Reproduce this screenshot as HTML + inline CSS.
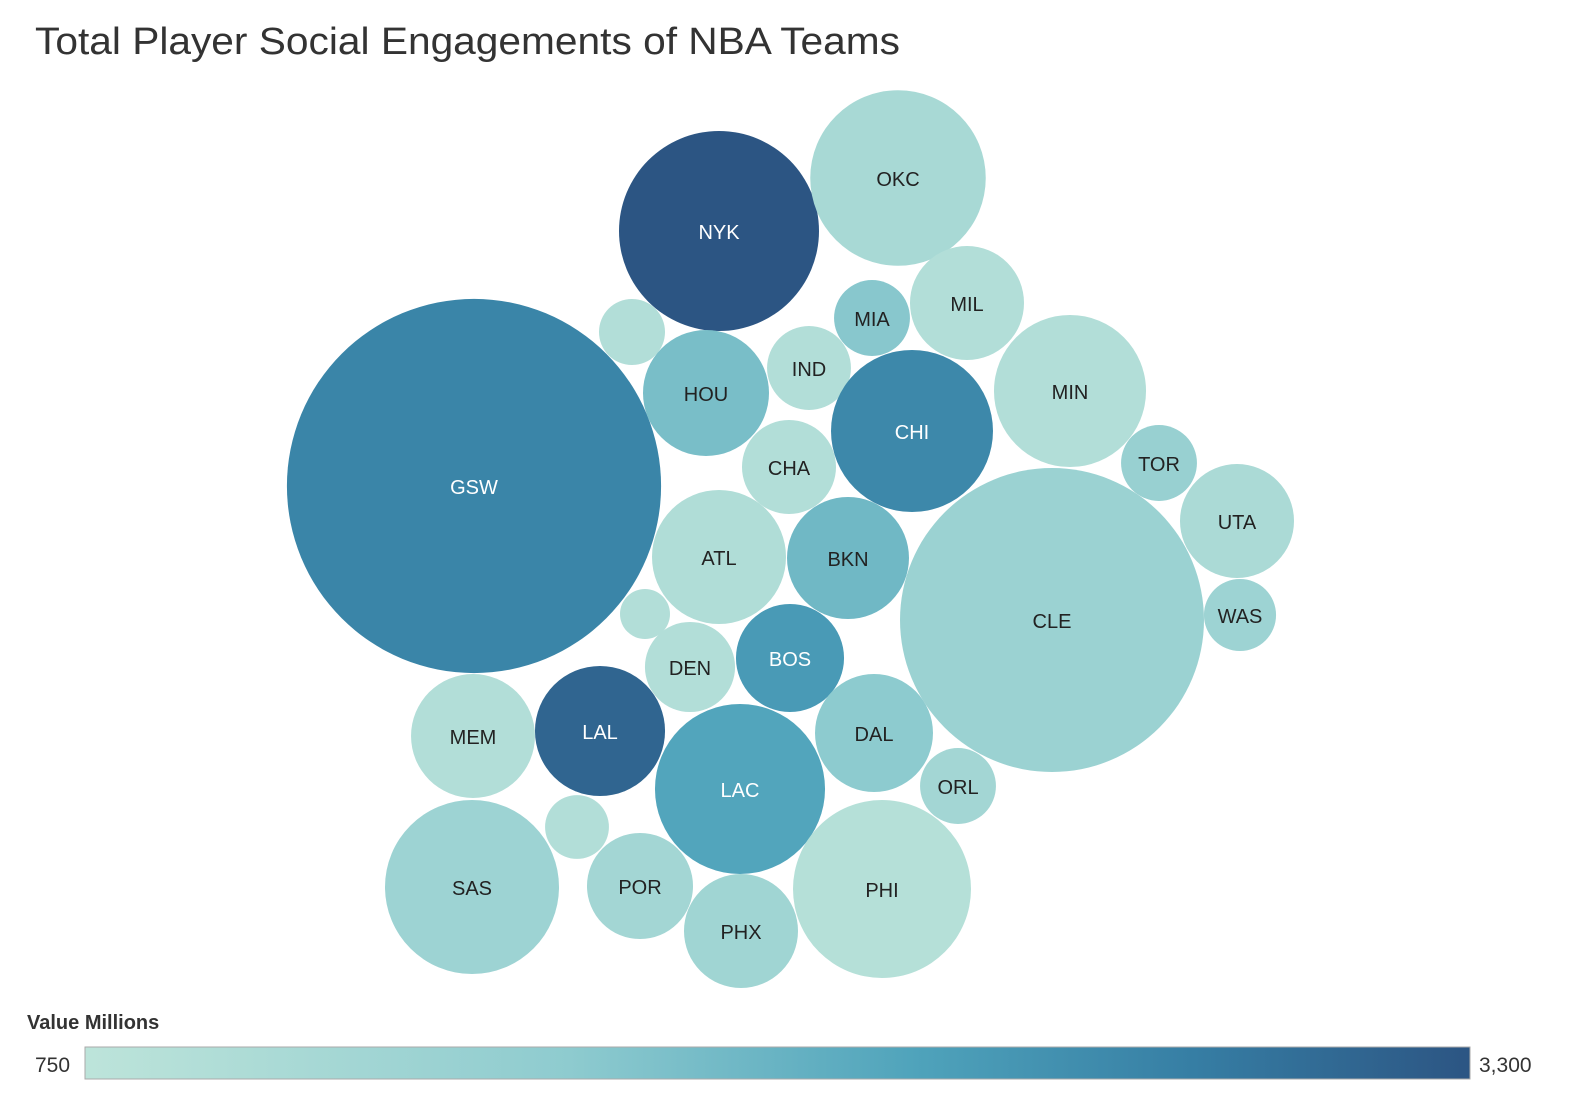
<!DOCTYPE html>
<html><head><meta charset="utf-8"><style>
body{margin:0;background:#fff;width:1574px;height:1110px;overflow:hidden;font-family:"Liberation Sans","DejaVu Sans",sans-serif}
</style></head><body>
<svg id="chart" width="1574" height="1110" viewBox="0 0 1574 1110">
<defs><linearGradient id="grad" x1="0" x2="1" y1="0" y2="0">
<stop offset="0" stop-color="#bde4da"/><stop offset="0.35" stop-color="#8ecbcf"/><stop offset="0.6" stop-color="#4fa3bb"/><stop offset="0.8" stop-color="#367ea4"/><stop offset="1" stop-color="#2c5583"/></linearGradient></defs>
<text x="35" y="54" font-size="38" fill="#333" textLength="865" lengthAdjust="spacingAndGlyphs">Total Player Social Engagements of NBA Teams</text>
<g id="bubbles"></g>
<text x="27" y="1029" font-size="20" font-weight="bold" fill="#333">Value Millions</text>
<rect x="85" y="1047" width="1385" height="32" fill="url(#grad)" stroke="#aaa"/>
<text x="35" y="1072" font-size="21" fill="#333">750</text>
<text x="1479" y="1072" font-size="21" fill="#333">3,300</text>
</svg>
<script>
const teams=["GSW","NYK","OKC","MIL","MIA","","HOU","IND","CHI","MIN","TOR","UTA","CLE","WAS","CHA","ATL","BKN","","DEN","BOS","MEM","LAL","DAL","LAC","ORL","","SAS","POR","PHX","PHI"];
const sizeValues=[350,100,77,32.5,14.4,10.9,39.7,17.6,65.6,57.8,14.4,32.5,231,13,22.1,44.9,37.2,6.25,20.3,29.2,38.4,42.3,34.8,72.3,14.4,10.2,75.7,28.1,32.5,79.2];
const colorValues=[2700,3300,1150,950,1700,950,1850,950,2650,950,1450,1100,1400,1350,950,1000,1950,950,950,2400,950,3100,1650,2250,1250,950,1350,1250,1300,900];
// layout (packing positions, not data)
const layoutX=[474,719,898,967,872,632,706,809,912,1070,1159,1237,1052,1240,789,719,848,645,690,790,473,600,874,740,958,577,472,640,741,882];
const layoutY=[486,231,178,303,318,332,393,368,431,391,463,521,620,615,467,557,558,614,667,658,736,731,733,789,786,827,887,886,931,889];
const rScale=v=>Math.sqrt(v)*10;
const stops=[[0,[189,228,218]],[0.35,[142,203,207]],[0.6,[79,163,187]],[0.8,[54,126,164]],[1,[44,85,131]]];
function color(v){let t=Math.max(0,Math.min(1,(v-750)/(3300-750)));for(let i=1;i<stops.length;i++){if(t<=stops[i][0]){const a=stops[i-1],b=stops[i],f=(t-a[0])/(b[0]-a[0]);return "rgb("+a[1].map((c,k)=>Math.round(c+(b[1][k]-c)*f)).join(",")+")";}}return "rgb(44,85,131)";}
const g=document.getElementById("bubbles");const ns="http://www.w3.org/2000/svg";
teams.forEach((t,i)=>{
 const c=document.createElementNS(ns,"circle");
 
 
 c.setAttribute("cx",layoutX[i]);c.setAttribute("cy",layoutY[i]);c.setAttribute("r",rScale(sizeValues[i]));
 c.setAttribute("fill",color(colorValues[i]));g.appendChild(c);
 if(t){const tx=document.createElementNS(ns,"text");
 
 
 tx.setAttribute("x",layoutX[i]);tx.setAttribute("y",layoutY[i]+8);tx.setAttribute("text-anchor","middle");tx.setAttribute("font-size","20");
 tx.setAttribute("fill",colorValues[i]>2100?"#fff":"#222");tx.textContent=t;g.appendChild(tx);}
});
</script>
</body></html>
